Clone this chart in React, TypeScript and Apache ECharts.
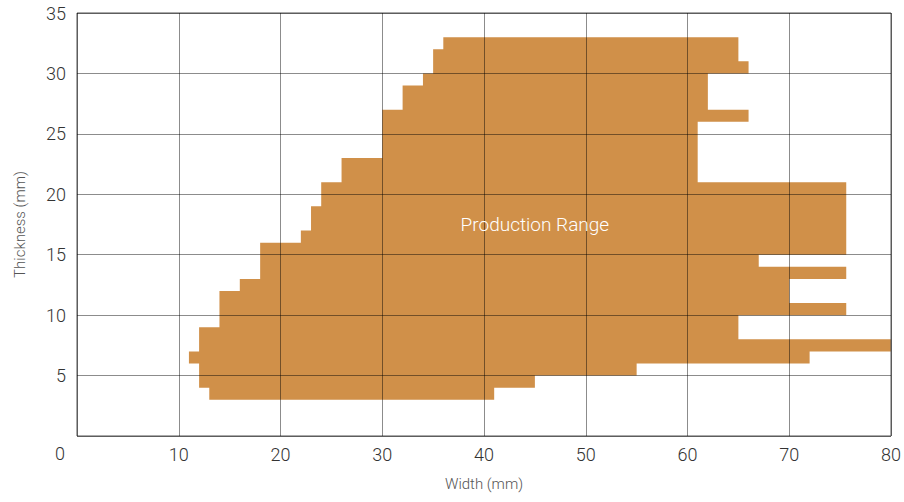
import React, { useEffect, useRef } from "react";
import * as echarts from "echarts";

// Outline of the production range (width mm, thickness mm), clockwise
const rangeWidth = [
  13, 41, 41, 45, 45, 55, 55, 72, 72, 80, 80, 65, 65, 75.6, 75.6, 70, 70, 75.6, 75.6, 67, 67, 75.6, 75.6, 61,
  61, 66, 66, 62, 62, 66, 66, 65, 65, 36, 36, 35, 35, 34, 34, 32, 32, 30, 30, 26, 26, 24, 24, 23, 23, 22, 22,
  18, 18, 16, 16, 14, 14, 12, 12, 11, 11, 12, 12, 13,
];
const rangeThickness = [
  3, 3, 4, 4, 5, 5, 6, 6, 7, 7, 8, 8, 10, 10, 11, 11, 13, 13, 14, 14, 15, 15, 21, 21,
  26, 26, 27, 27, 30, 30, 31, 31, 33, 33, 32, 32, 30, 30, 29, 29, 27, 27, 23, 23, 21, 21, 19, 19, 17, 17, 16,
  16, 13, 13, 12, 12, 9, 9, 7, 7, 6, 6, 4, 4,
];
const rangeLabel = "Production Range";
const labelPos = [45, 17.5];
const xTicks = [0, 10, 20, 30, 40, 50, 60, 70, 80];
const yTicks = [0, 5, 10, 15, 20, 25, 30, 35];

const FONT = "Roboto, 'Helvetica Neue', Arial, sans-serif";

export default function App() {
  const ref = useRef<HTMLDivElement>(null);
  useEffect(() => {
    if (!ref.current) return;
    document.body.style.margin = "0";
    const chart = echarts.init(ref.current, undefined, { renderer: "svg" });
    const points = rangeWidth.map((w, i) => [w, rangeThickness[i]]);
    chart.setOption({
      animation: false,
      grid: {
        left: 77,
        right: 11,
        top: 13,
        bottom: 66,
        show: true,
        borderColor: "#555",
        borderWidth: 1,
        backgroundColor: "transparent",
      },
      xAxis: {
        type: "value",
        min: xTicks[0],
        max: xTicks[xTicks.length - 1],
        interval: 10,
        name: "Width (mm)",
        nameLocation: "middle",
        nameGap: 40,
        nameTextStyle: { fontFamily: FONT, fontWeight: 300, fontSize: 15, color: "#555" },
        axisLine: { show: false },
        axisTick: { show: false },
        axisLabel: {
          fontFamily: FONT,
          fontWeight: 300,
          fontSize: 18,
          color: "#333",
          margin: 9,
          formatter: (v: number) => (v === 0 ? "" : String(v)),
        },
        splitLine: { show: true, lineStyle: { color: "rgba(0,0,0,0.45)", width: 1 } },
      },
      yAxis: {
        type: "value",
        min: yTicks[0],
        max: yTicks[yTicks.length - 1],
        interval: 5,
        name: "Thickness (mm)",
        nameLocation: "middle",
        nameGap: 50,
        nameTextStyle: { fontFamily: FONT, fontWeight: 300, fontSize: 15, color: "#555" },
        axisLine: { show: false },
        axisTick: { show: false },
        axisLabel: {
          fontFamily: FONT,
          fontWeight: 300,
          fontSize: 18,
          color: "#333",
          margin: 11,
          formatter: (v: number) => (v === 0 ? "" : String(v)),
        },
        splitLine: { show: true, lineStyle: { color: "rgba(0,0,0,0.45)", width: 1 } },
      },
      graphic: [
        {
          type: "text",
          left: 55,
          top: 444,
          style: { text: "0", fontFamily: FONT, fontWeight: 300, fontSize: 18, fill: "#333" },
        },
      ],
      series: [
        {
          type: "custom",
          z: -1,
          coordinateSystem: "cartesian2d",
          data: [0],
          encode: { x: [], y: [] },
          renderItem: (_params: any, api: any) => ({
            type: "polygon",
            shape: { points: points.map((p) => api.coord(p)) },
            style: { fill: "#D09049", stroke: "none" },
          }),
          silent: true,
        },
        {
          type: "custom",
          z: 5,
          coordinateSystem: "cartesian2d",
          data: [0],
          encode: { x: [], y: [] },
          renderItem: (_params: any, api: any) => {
            const c = api.coord(labelPos);
            return {
              type: "text",
              x: c[0],
              y: c[1],
              style: {
                text: rangeLabel,
                fontFamily: FONT,
                fontWeight: 300,
                fontSize: 19,
                fill: "#fff",
                align: "center",
                verticalAlign: "middle",
              },
            };
          },
          silent: true,
        },
      ],
    });
    return () => chart.dispose();
  }, []);
  return <div ref={ref} style={{ width: 904, height: 502 }} />;
}
